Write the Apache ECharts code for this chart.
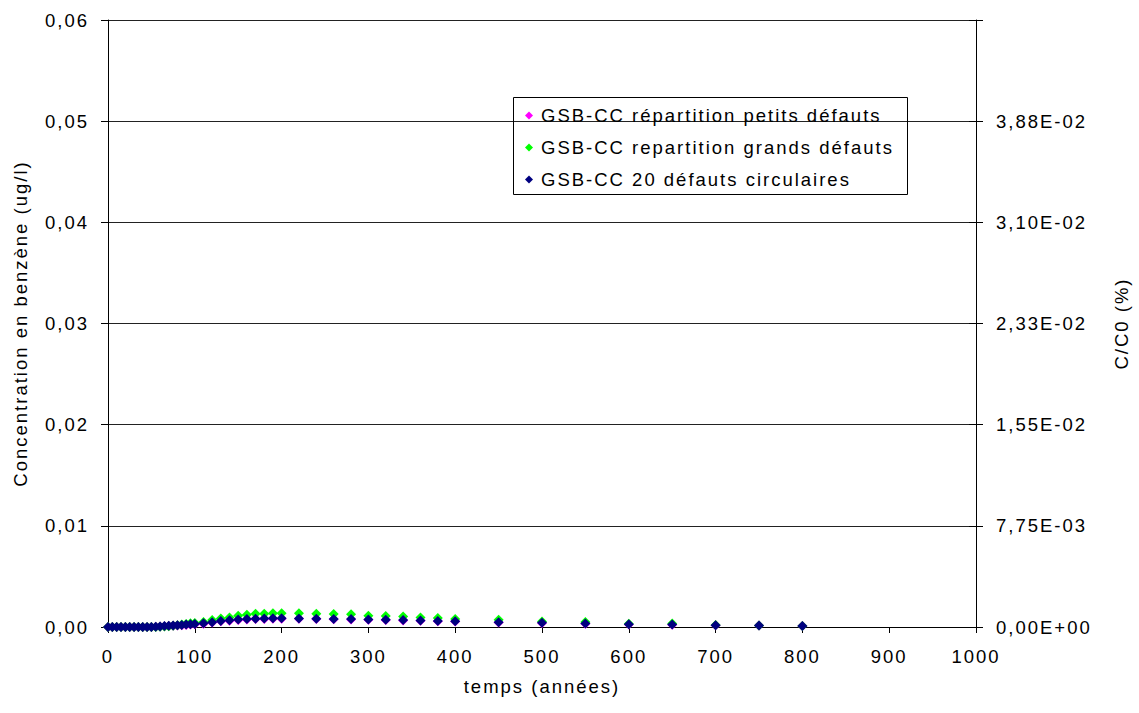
<!DOCTYPE html>
<html>
<head>
<meta charset="utf-8">
<script src="https://cdn.jsdelivr.net/npm/echarts@6/dist/echarts.min.js"></script>
<style>
  html, body { margin: 0; padding: 0; background: #fff; }
  #chart { width: 1139px; height: 713px; }
  /* wide spacing of the chart text */
  #chart svg text { letter-spacing: 2px; }
</style>
</head>
<body>
<div id="chart"></div>
<script>
// Time (years)
const years = [0,5,10,15,20,25,30,35,40,45,50,55,60,65,70,75,80,85,90,95,100,
  110,120,130,140,150,160,170,180,190,200,
  220,240,260,280,300,320,340,360,380,400,
  450,500,550,600,650,700,750,800];

// Benzene concentration (ug/l)
const petitsDefauts = [0,0,0,0,0,0,0,0,0,0,0.00001,0.00002,0.00004,0.00008,0.0001,0.00013,0.00016,0.00018,0.00021,0.00024,0.00027,
  0.00033,0.00044,0.00056,0.00062,0.0007,0.00075,0.00078,0.0008,0.00081,0.00082,
  0.00081,0.00078,0.00076,0.00074,0.00071,0.00068,0.00064,0.00061,0.00057,0.00055,
  0.00045,0.0004,0.00033,0.00025,0.00022,0.00017,0.00015,0.0001];

const grandsDefauts = [0,0,0,0,0,0,0,0,0,0,0,0,0.00002,0.00004,0.00008,0.00012,0.00018,0.00024,0.0003,0.00036,0.0004,
  0.0005,0.00068,0.00085,0.00095,0.0011,0.0012,0.0013,0.0013,0.00135,0.00135,
  0.00135,0.0013,0.00128,0.00125,0.0011,0.00108,0.00104,0.00095,0.0009,0.00078,
  0.00072,0.00055,0.0005,0.00032,0.00035,0.0002,0.00016,0.0001];

const defautsCirculaires = [0,0,0,0,0,0,0,0,0,0,0.00001,0.00002,0.00005,0.0001,0.00012,0.00015,0.00018,0.0002,0.00024,0.00027,0.0003,
  0.00036,0.00048,0.0006,0.00066,0.00075,0.0008,0.00082,0.00085,0.00086,0.00086,
  0.00085,0.00082,0.0008,0.00078,0.00075,0.00072,0.00068,0.00065,0.0006,0.00058,
  0.00048,0.00042,0.00035,0.00027,0.00024,0.00018,0.00016,0.0001];

// Right-hand axis tick labels (C/C0 in %)
const ratioLabels = ['0,00E+00','7,75E-03','1,55E-02','2,33E-02','3,10E-02','3,88E-02',''];

const seriesNames = [
  'GSB-CC répartition petits défauts',
  'GSB-CC repartition grands défauts',
  'GSB-CC 20 défauts circulaires'
];

const FONT = '"Liberation Sans", Arial, sans-serif';
const FS = 18.5;

const pairs = arr => years.map((x, i) => [x, arr[i]]);

const chart = echarts.init(document.getElementById('chart'), null, { renderer: 'svg' });

const markerSeries = (name, color, data) => ({
  name: name,
  type: 'scatter',
  symbol: 'diamond',
  symbolSize: 10,
  itemStyle: { color: color, opacity: 1 },
  data: pairs(data),
  yAxisIndex: 0
});

chart.setOption({
  animation: false,
  backgroundColor: '#fff',
  textStyle: { fontFamily: FONT, color: '#000' },
  grid: { left: 108, right: 155, top: 20, bottom: 86, containLabel: false },
  xAxis: {
    type: 'value',
    min: 0, max: 1000, interval: 100,
    name: 'temps (années)',
    nameLocation: 'middle',
    nameGap: 50,
    nameTextStyle: { fontFamily: FONT, fontSize: FS, color: '#000' },
    axisLine: { lineStyle: { color: '#000', width: 1 } },
    axisTick: { show: true, inside: false, length: 6, lineStyle: { color: '#000' } },
    axisLabel: {
      fontFamily: FONT, fontSize: FS, color: '#000', margin: 20,
      formatter: v => String(v)
    },
    splitLine: { show: false }
  },
  yAxis: [
    {
      type: 'value',
      position: 'left',
      min: 0, max: 0.06, interval: 0.01,
      name: 'Concentration en benzène (ug/l)',
      nameLocation: 'middle',
      nameRotate: 90,
      nameGap: 78,
      nameTextStyle: { fontFamily: FONT, fontSize: FS, color: '#000' },
      axisLine: { show: true, lineStyle: { color: '#000', width: 1 } },
      axisTick: { show: true, inside: false, length: 7, lineStyle: { color: '#000' } },
      axisLabel: {
        fontFamily: FONT, fontSize: FS, color: '#000', margin: 19,
        formatter: v => v.toFixed(2).replace('.', ',')
      },
      splitLine: { show: true, lineStyle: { color: '#222', width: 1 } }
    },
    {
      type: 'value',
      position: 'right',
      min: 0, max: 0.06, interval: 0.01,
      name: 'C/C0 (%)',
      nameLocation: 'middle',
      nameRotate: 90,
      nameGap: 136,
      nameTextStyle: { fontFamily: FONT, fontSize: FS, color: '#000' },
      axisLine: { show: true, lineStyle: { color: '#000', width: 1 } },
      axisTick: { show: true, inside: false, length: 7, lineStyle: { color: '#000' } },
      axisLabel: {
        fontFamily: FONT, fontSize: FS, color: '#000', margin: 20,
        formatter: (v) => ratioLabels[Math.round(v / 0.01)] || ''
      },
      splitLine: { show: false }
    },
    {
      // inward half of the crossing ticks on the right axis
      type: 'value',
      position: 'right',
      min: 0, max: 0.06, interval: 0.01,
      axisLine: { show: false },
      axisTick: { show: true, inside: true, length: 7, lineStyle: { color: '#000' } },
      axisLabel: { show: false },
      splitLine: { show: false }
    }
  ],
  legend: {
    orient: 'vertical',
    left: 513,
    top: 98,
    padding: [7, 12, 8, 12],
    itemGap: 11,
    itemWidth: 8,
    itemHeight: 8,
    icon: 'diamond',
    selectedMode: false,
    textStyle: { fontFamily: FONT, fontSize: FS, color: '#000', lineHeight: 21, padding: [0, 0, 0, 3] },
    data: seriesNames
  },
  graphic: [
    {
      type: 'rect',
      z: 100,
      shape: { x: 513.5, y: 97.5, width: 394, height: 97 },
      style: { fill: 'none', stroke: '#000', lineWidth: 1 }
    }
  ],
  series: [
    markerSeries(seriesNames[0], '#FF00FF', petitsDefauts),
    markerSeries(seriesNames[1], '#00FF00', grandsDefauts),
    markerSeries(seriesNames[2], '#000080', defautsCirculaires)
  ]
});
</script>
</body>
</html>
